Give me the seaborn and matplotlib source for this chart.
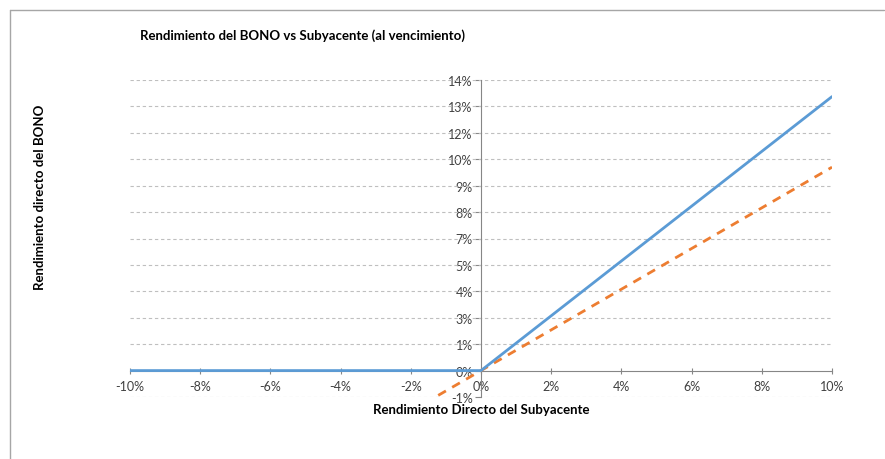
import matplotlib
matplotlib.use("Agg")
import matplotlib.pyplot as plt
import seaborn as sns
import pandas as pd
from matplotlib.lines import Line2D

# Data (percent)
subyacente = [-10, -8, -6, -4, -2, 0, 2, 4, 6, 8, 10]
bono = [0, 0, 0, 0, 0, 0, 2.64, 5.28, 7.92, 10.56, 13.2]
referencia = [-9.8, -7.84, -5.88, -3.92, -1.96, 0, 1.96, 3.92, 5.88, 7.84, 9.8]

x_ticks = [-10, -8, -6, -4, -2, 0, 2, 4, 6, 8, 10]
x_labels = ["-10%", "-8%", "-6%", "-4%", "-2%", "0%", "2%", "4%", "6%", "8%", "10%"]
y_labels = ["-1%", "0%", "1%", "3%", "4%", "5%", "7%", "8%", "9%", "10%", "12%", "13%", "14%"]

title = "Rendimiento del BONO vs Subyacente (al vencimiento)"
xlabel = "Rendimiento Directo del Subyacente"
ylabel = "Rendimiento directo del BONO"

df = pd.DataFrame({"x": subyacente, "bono": bono, "ref": referencia})

sns.set_theme(style="white")
plt.rcParams["font.family"] = ["Lato", "DejaVu Sans"]

fig = plt.figure(figsize=(8.85, 4.6), dpi=100)
ax = fig.add_axes([130 / 885, 1 - 398 / 460, (832 - 130) / 885, (398 - 81) / 460])

step = 14 / 11
y_ticks = [step * k for k in range(-1, 12)]

sns.lineplot(data=df, x="x", y="ref", ax=ax, color="#ED7D31", linewidth=2.0,
             linestyle=(0, (3.2, 2.6)), zorder=3)
sns.lineplot(data=df, x="x", y="bono", ax=ax, color="#5B9BD5", linewidth=2.0, zorder=4)

ax.set_xlim(-10, 10)
ax.set_ylim(y_ticks[0], y_ticks[-1])

for yt in y_ticks:
    if abs(yt) > 1e-9:
        ax.axhline(yt, color="#BFBFBF", linewidth=0.8, linestyle=(0, (3, 2.5)), zorder=1)

for s in ["top", "right"]:
    ax.spines[s].set_visible(False)
ax.spines["left"].set_position(("data", 0))
ax.spines["bottom"].set_position(("data", 0))
ax.spines["left"].set_color("#868686")
ax.spines["bottom"].set_color("#868686")
ax.spines["left"].set_linewidth(0.8)
ax.spines["bottom"].set_linewidth(0.8)

ax.set_xticks(x_ticks)
ax.set_xticklabels(x_labels)
ax.set_yticks(y_ticks)
ax.set_yticklabels(y_labels)
ax.tick_params(axis="x", direction="inout", length=5, width=0.8, color="#868686",
               labelsize=9, labelcolor="#404040", pad=4, bottom=True)
ax.tick_params(axis="y", direction="out", length=4, width=0.8, color="#868686",
               labelsize=9, labelcolor="#404040", pad=2, left=True)
ax.set_xlabel("")
ax.set_ylabel("")
ax.set_facecolor("none")

fig.text(140 / 885, 1 - 36 / 460, title, fontsize=9.5, fontweight="bold",
         ha="left", va="center", color="#000000")
fig.text(481 / 885, 1 - 410 / 460, xlabel, fontsize=9.5, fontweight="bold",
         ha="center", va="center", color="#000000")
fig.text(40 / 885, 1 - 197 / 460, ylabel, fontsize=9.5, fontweight="bold",
         ha="center", va="center", rotation=90, color="#000000")

# Frame (top and left edges)
fig.add_artist(Line2D([9.5 / 885, 884 / 885], [1 - 11 / 460, 1 - 11 / 460],
                      transform=fig.transFigure, color="#A6A6A6", linewidth=1.0))
fig.add_artist(Line2D([9.5 / 885, 9.5 / 885], [1 - 11 / 460, 0],
                      transform=fig.transFigure, color="#A6A6A6", linewidth=1.0))

fig.savefig("out.png", dpi=100, facecolor="white")
